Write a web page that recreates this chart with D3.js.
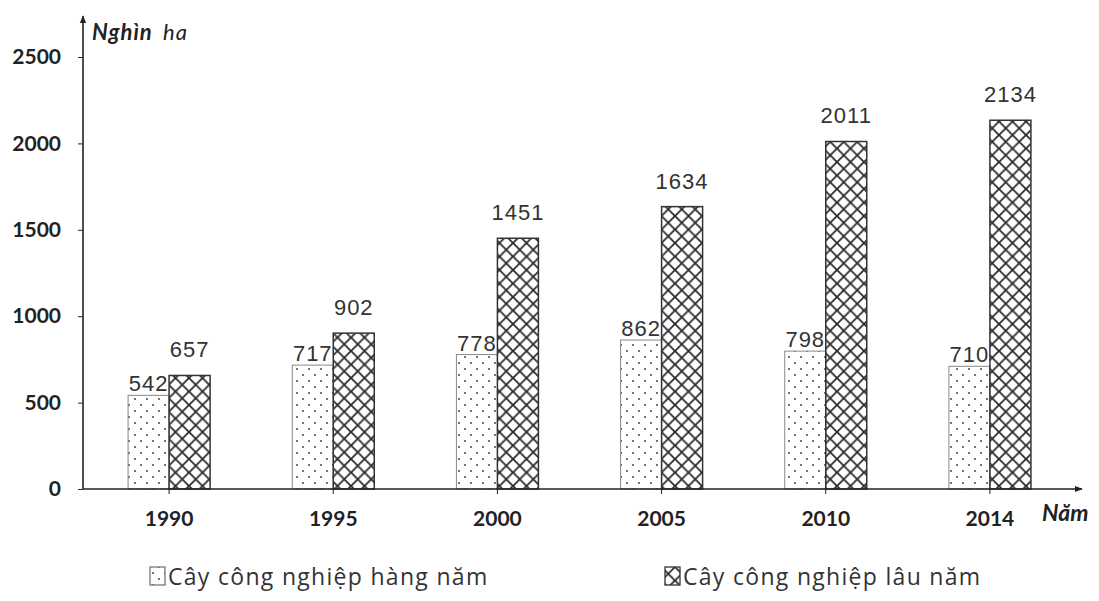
<!DOCTYPE html>
<html>
<head>
<meta charset="utf-8">
<script src="https://cdn.jsdelivr.net/npm/d3@7"></script>
<style>
  html, body { margin: 0; padding: 0; background: #fff; }
  svg { display: block; }
</style>
</head>
<body>
<svg id="chart" width="1099" height="601"></svg>
<script>
const years = ["1990", "1995", "2000", "2005", "2010", "2014"];
const annualCrops = [542, 717, 778, 862, 798, 710];
const perennialCrops = [657, 902, 1451, 1634, 2011, 2134];
const yTicks = [0, 500, 1000, 1500, 2000, 2500];
const seriesNames = ["Cây công nghiệp hàng năm", "Cây công nghiệp lâu năm"];
const yTitle = ["Nghìn", "ha"];
const xTitle = "Năm";

const svg = d3.select("#chart");
const axisX0 = 83, axisY0 = 489;
const y = d3.scaleLinear().domain([0, 2500]).range([axisY0, 57]);
const x = d3.scaleBand().domain(years).range([87, 1072]).padding(0);
const barW = 41;
const ink = "#222";

const defs = svg.append("defs");
const dots = defs.append("pattern").attr("id", "dots").attr("patternUnits", "userSpaceOnUse")
  .attr("width", 12).attr("height", 12);
dots.append("circle").attr("cx", 3).attr("cy", 3).attr("r", 1).attr("fill", "#444");
dots.append("circle").attr("cx", 9).attr("cy", 9).attr("r", 1).attr("fill", "#444");

const hatch = defs.append("pattern").attr("id", "hatch").attr("patternUnits", "userSpaceOnUse")
  .attr("width", 13.5).attr("height", 13.5);
hatch.append("path").attr("d", "M-1,-1L14.5,14.5M14.5,-1L-1,14.5")
  .attr("stroke", "#2a2a2a").attr("stroke-width", 1.8).attr("fill", "none");

const arrow = defs.append("marker").attr("id", "arrow").attr("viewBox", "0 0 10 10")
  .attr("refX", 9).attr("refY", 5).attr("markerWidth", 8).attr("markerHeight", 8)
  .attr("markerUnits", "userSpaceOnUse").attr("orient", "auto");
arrow.append("path").attr("d", "M0,1L10,5L0,9Z").attr("fill", ink);

const labelFont = "Liberation Sans, sans-serif";

// bars
const g = svg.append("g");
years.forEach((yr, i) => {
  const cx = x(yr) + x.bandwidth() / 2;
  g.append("rect").attr("x", cx - barW).attr("y", y(annualCrops[i]))
    .attr("width", barW).attr("height", axisY0 - y(annualCrops[i]))
    .attr("fill", "url(#dots)").attr("stroke", "#888").attr("stroke-width", 1);
  g.append("rect").attr("x", cx).attr("y", y(perennialCrops[i]))
    .attr("width", barW).attr("height", axisY0 - y(perennialCrops[i]))
    .attr("fill", "url(#hatch)").attr("stroke", "#333").attr("stroke-width", 1.5);
  g.append("text").attr("x", cx - barW / 2).attr("y", y(annualCrops[i]) - 4)
    .attr("text-anchor", "middle").attr("font-family", labelFont)
    .attr("font-size", 22).attr("letter-spacing", 1).attr("fill", "#333").text(annualCrops[i]);
  g.append("text").attr("x", cx + barW / 2).attr("y", y(perennialCrops[i]) - 18)
    .attr("text-anchor", "middle").attr("font-family", labelFont)
    .attr("font-size", 22).attr("letter-spacing", 1).attr("fill", "#333").text(perennialCrops[i]);
});

// y axis
const yAxis = svg.append("g").attr("transform", `translate(${axisX0},0)`)
  .call(d3.axisLeft(y).tickValues(yTicks).tickSize(5).tickPadding(17).tickFormat(d3.format("d")));
yAxis.select(".domain").remove();
yAxis.selectAll("line").attr("stroke", ink);
yAxis.selectAll("text").attr("font-family", "Lato, sans-serif").attr("font-weight", "bold")
  .attr("font-size", 21).attr("fill", ink);
svg.append("line").attr("x1", axisX0).attr("x2", axisX0).attr("y1", axisY0).attr("y2", 16)
  .attr("stroke", ink).attr("stroke-width", 1.6).attr("marker-end", "url(#arrow)");

// x axis
const xAxis = svg.append("g").attr("transform", `translate(0,${axisY0})`)
  .call(d3.axisBottom(x).tickSize(5).tickPadding(17));
xAxis.select(".domain").remove();
xAxis.selectAll("line").attr("stroke", ink);
xAxis.selectAll("text").attr("font-family", "Lato, sans-serif").attr("font-weight", "bold")
  .attr("font-size", 21).attr("fill", ink);
svg.append("line").attr("x1", axisX0).attr("x2", 1082).attr("y1", axisY0).attr("y2", axisY0)
  .attr("stroke", ink).attr("stroke-width", 1.6).attr("marker-end", "url(#arrow)");

// axis titles
const yt = svg.append("text").attr("y", 40).attr("font-family", "Lato, sans-serif")
  .attr("font-style", "italic").attr("font-size", 22).attr("fill", ink);
yt.append("tspan").attr("x", 92).attr("font-weight", "bold").attr("letter-spacing", 1).text(yTitle[0]);
yt.append("tspan").attr("x", 163).attr("letter-spacing", 1).text(yTitle[1]);
svg.append("text").attr("x", 1042).attr("y", 521).attr("font-family", "Lato, sans-serif")
  .attr("font-style", "italic").attr("font-weight", "bold").attr("font-size", 23)
  .attr("fill", ink).text(xTitle);

// legend
const legendX = [150, 665];
const fills = ["url(#dots)", "url(#hatch)"];
const strokes = ["#777", "#333"];
seriesNames.forEach((name, i) => {
  svg.append("rect").attr("x", legendX[i]).attr("y", 567).attr("width", 15).attr("height", 18)
    .attr("fill", fills[i]).attr("stroke", strokes[i]).attr("stroke-width", 1.3);
  svg.append("text").attr("x", legendX[i] + 18).attr("y", 585)
    .attr("font-family", "Open Sans, sans-serif").attr("font-size", 23)
    .attr("letter-spacing", 1.3).attr("fill", "#333").text(name);
});
</script>
</body>
</html>
